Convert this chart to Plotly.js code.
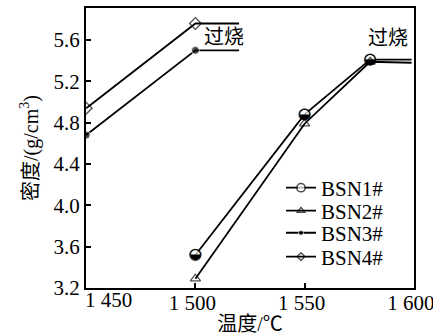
<!DOCTYPE html>
<html>
<head>
<meta charset="utf-8">
<script src="https://cdn.plot.ly/plotly-3.0.1.min.js"></script>
<style>html,body{margin:0;padding:0;background:#fff;}#chart{width:433px;height:335px;}</style>
</head>
<body>
<div id="chart"></div>
<script>
// Data
const seriesNames = ['BSN1#', 'BSN2#', 'BSN3#', 'BSN4#'];
const temps1 = [1500, 1550, 1580, 1599];
const bsn1 = [3.52, 4.88, 5.41, 5.41];
const temps2 = [1500, 1550, 1580, 1599];
const bsn2 = [3.29, 4.79, 5.39, 5.38];
const temps3 = [1450, 1500, 1520];
const bsn3 = [4.68, 5.50, 5.50];
const temps4 = [1450, 1500, 1520];
const bsn4 = [4.94, 5.76, 5.76];
const xTickVals = [1450, 1500, 1550, 1600];
const xTickText = ['1 450', '1 500', '1 550', '1 600'];
const yTickVals = [3.2, 3.6, 4.0, 4.4, 4.8, 5.2, 5.6];
const yTickText = ['3.2', '3.6', '4.0', '4.4', '4.8', '5.2', '5.6'];
const noteText = '过烧';
const notes = [{x: 1513, y: 5.64}, {x: 1588, y: 5.63}];

const serif = 'Liberation Serif';
const mixed = 'Liberation Serif, Noto Sans CJK SC';
const cjk = 'Noto Sans CJK SC';
const xRange = [1449.9, 1600.1];

function sizes(arr, s) { return arr.map((v, i) => i === arr.length - 1 ? 0 : s); }

const line = {color: '#000', width: 1.8};
const traces = [
  {x: temps1, y: bsn1, name: seriesNames[0], legend: 'legend', mode: 'lines+markers', line: line,
   marker: {symbol: 'circle', size: sizes(bsn1, 11), color: '#fff', line: {color: '#000', width: 1.5}}},
  {x: temps2, y: bsn2, name: seriesNames[1], legend: 'legend2', mode: 'lines+markers', line: line,
   marker: {symbol: 'triangle-up-open', size: sizes(bsn2, 9), color: '#000', line: {width: 1.3}}},
  {x: temps3, y: bsn3, name: seriesNames[2], legend: 'legend3', mode: 'lines+markers', line: line,
   marker: {symbol: 'circle', size: sizes(bsn3, 8), color: '#000'}},
  {x: temps4, y: bsn4, name: seriesNames[3], legend: 'legend4', mode: 'lines+markers', line: line,
   marker: {symbol: 'diamond-open', size: sizes(bsn4, 9), color: '#000', line: {width: 1.3}}},
  {x: temps1.slice(0, 3), y: bsn1.slice(0, 3), mode: 'text', text: temps1.slice(0, 3).map(() => '◒'),
   textposition: 'middle center', textfont: {family: 'DejaVu Sans', size: 14, color: '#000'},
   showlegend: false, hoverinfo: 'skip'}
];

const legendRowsY = [0.357, 0.275, 0.196, 0.111];
function leg(y) {
  return {x: 0.5945, y: y, xanchor: 'left', yanchor: 'middle', bgcolor: 'rgba(0,0,0,0)',
    borderwidth: 0, font: {family: serif, size: 21, color: '#000'}, itemwidth: 30};
}
const tickFont = {family: serif, size: 21, color: '#000'};

const annotations = notes.map(n => ({x: n.x, y: n.y, text: noteText, showarrow: false,
  font: {family: cjk, size: 20, color: '#000'}}));
// first x tick label, nudged right of the corner as in the reference
annotations.push({x: xTickVals[0], xref: 'x', y: 0, yref: 'paper', text: xTickText[0],
  showarrow: false, xanchor: 'left', yanchor: 'middle', xshift: -3, yshift: -12, font: tickFont});

const layout = {
  width: 433, height: 335,
  margin: {l: 86, r: 19, t: 8, b: 47},
  paper_bgcolor: '#fff', plot_bgcolor: '#fff',
  showlegend: true,
  legend: leg(legendRowsY[0]), legend2: leg(legendRowsY[1]),
  legend3: leg(legendRowsY[2]), legend4: leg(legendRowsY[3]),
  xaxis: {range: xRange, tickvals: xTickVals.slice(1), ticktext: xTickText.slice(1),
    ticks: 'inside', ticklen: 5, tickwidth: 2, tickcolor: '#000', ticklabeloverflow: 'allow',
    ticklabelshift: -3, ticklabelstandoff: -5,
    showline: true, linecolor: '#000', linewidth: 2, mirror: true, showgrid: false, zeroline: false,
    tickfont: tickFont,
    title: {text: '温度/℃', font: {family: mixed, size: 20, color: '#000'}, standoff: 2}},
  yaxis: {range: [3.2, 5.91], tickvals: yTickVals, ticktext: yTickText,
    ticks: 'inside', ticklen: 5, tickwidth: 2, tickcolor: '#000',
    showline: true, linecolor: '#000', linewidth: 2, mirror: true, showgrid: false, zeroline: false,
    tickfont: tickFont,
    title: {text: '密度/(g/cm<sup>3</sup>)', font: {family: mixed, size: 20, color: '#000'}, standoff: 10}},
  annotations: annotations
};

Plotly.newPlot('chart', traces, layout, {displayModeBar: false, staticPlot: true});
</script>
</body>
</html>
